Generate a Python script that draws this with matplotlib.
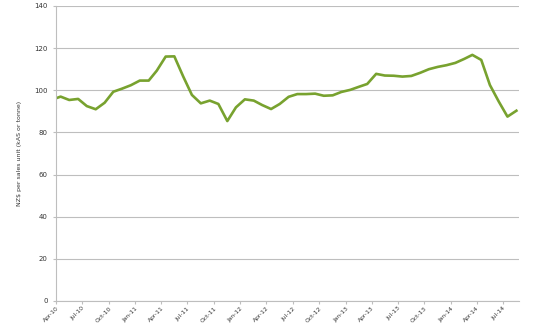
import matplotlib
matplotlib.use("Agg")
import matplotlib.pyplot as plt
import matplotlib.dates as mdates
import pandas as pd

# monthly values, Apr-10 .. Aug-14 (plotted mid-month), plus the value at the axis start
start_value = 96.2
values = [97.0, 95.4, 95.9, 92.5, 91.0, 94.1, 99.3, 100.8, 102.4, 104.6,
          104.6, 109.3, 116.0, 116.1, 106.5, 97.8, 93.8, 95.1, 93.5, 85.4,
          91.9, 95.7, 95.1, 93.0, 91.1, 93.5, 96.9, 98.2, 98.2, 98.4,
          97.4, 97.6, 99.2, 100.2, 101.7, 103.0, 107.8, 107.0, 106.9, 106.5,
          106.8, 108.3, 110.0, 111.1, 111.9, 113.0, 114.9, 116.8, 114.4, 102.5,
          94.6, 87.5, 90.3]

months = pd.date_range("2010-04-01", periods=len(values), freq="MS") + pd.Timedelta(days=16)
dates = [pd.Timestamp("2010-04-01")] + list(months)
ys = [start_value] + values

fig = plt.figure(figsize=(5.5, 3.26), dpi=100)
ax = fig.add_axes([0.1018, 0.0767, 0.8418, 0.9049])

ax.plot(dates, ys, color="#78A22F", lw=1.9, solid_joinstyle="round")

ax.set_ylim(0, 140)
ax.set_yticks(range(0, 141, 20))
ax.set_xlim(pd.Timestamp("2010-04-01"), pd.Timestamp("2014-08-26"))
ax.xaxis.set_major_locator(mdates.MonthLocator(bymonth=[1, 4, 7, 10]))
ax.xaxis.set_major_formatter(mdates.DateFormatter("%b-%y"))

ax.grid(axis="y", color="#BEBEBE", lw=0.8)
ax.set_axisbelow(True)
for s in ["top", "right"]:
    ax.spines[s].set_visible(False)
for s in ["left", "bottom"]:
    ax.spines[s].set_color("#BEBEBE")
    ax.spines[s].set_linewidth(0.8)

ax.tick_params(axis="both", colors="#BEBEBE", length=2.5, width=0.8,
               labelsize=5, labelcolor="#333333")
ax.tick_params(axis="x", labelsize=4.3, pad=1)
plt.setp(ax.get_xticklabels(), rotation=45, ha="right", rotation_mode="anchor")

ax.set_ylabel("NZ$ per sales unit (kAS or tonne)", fontsize=4.5, color="#333333", labelpad=9)

fig.savefig("out.png", dpi=100)
